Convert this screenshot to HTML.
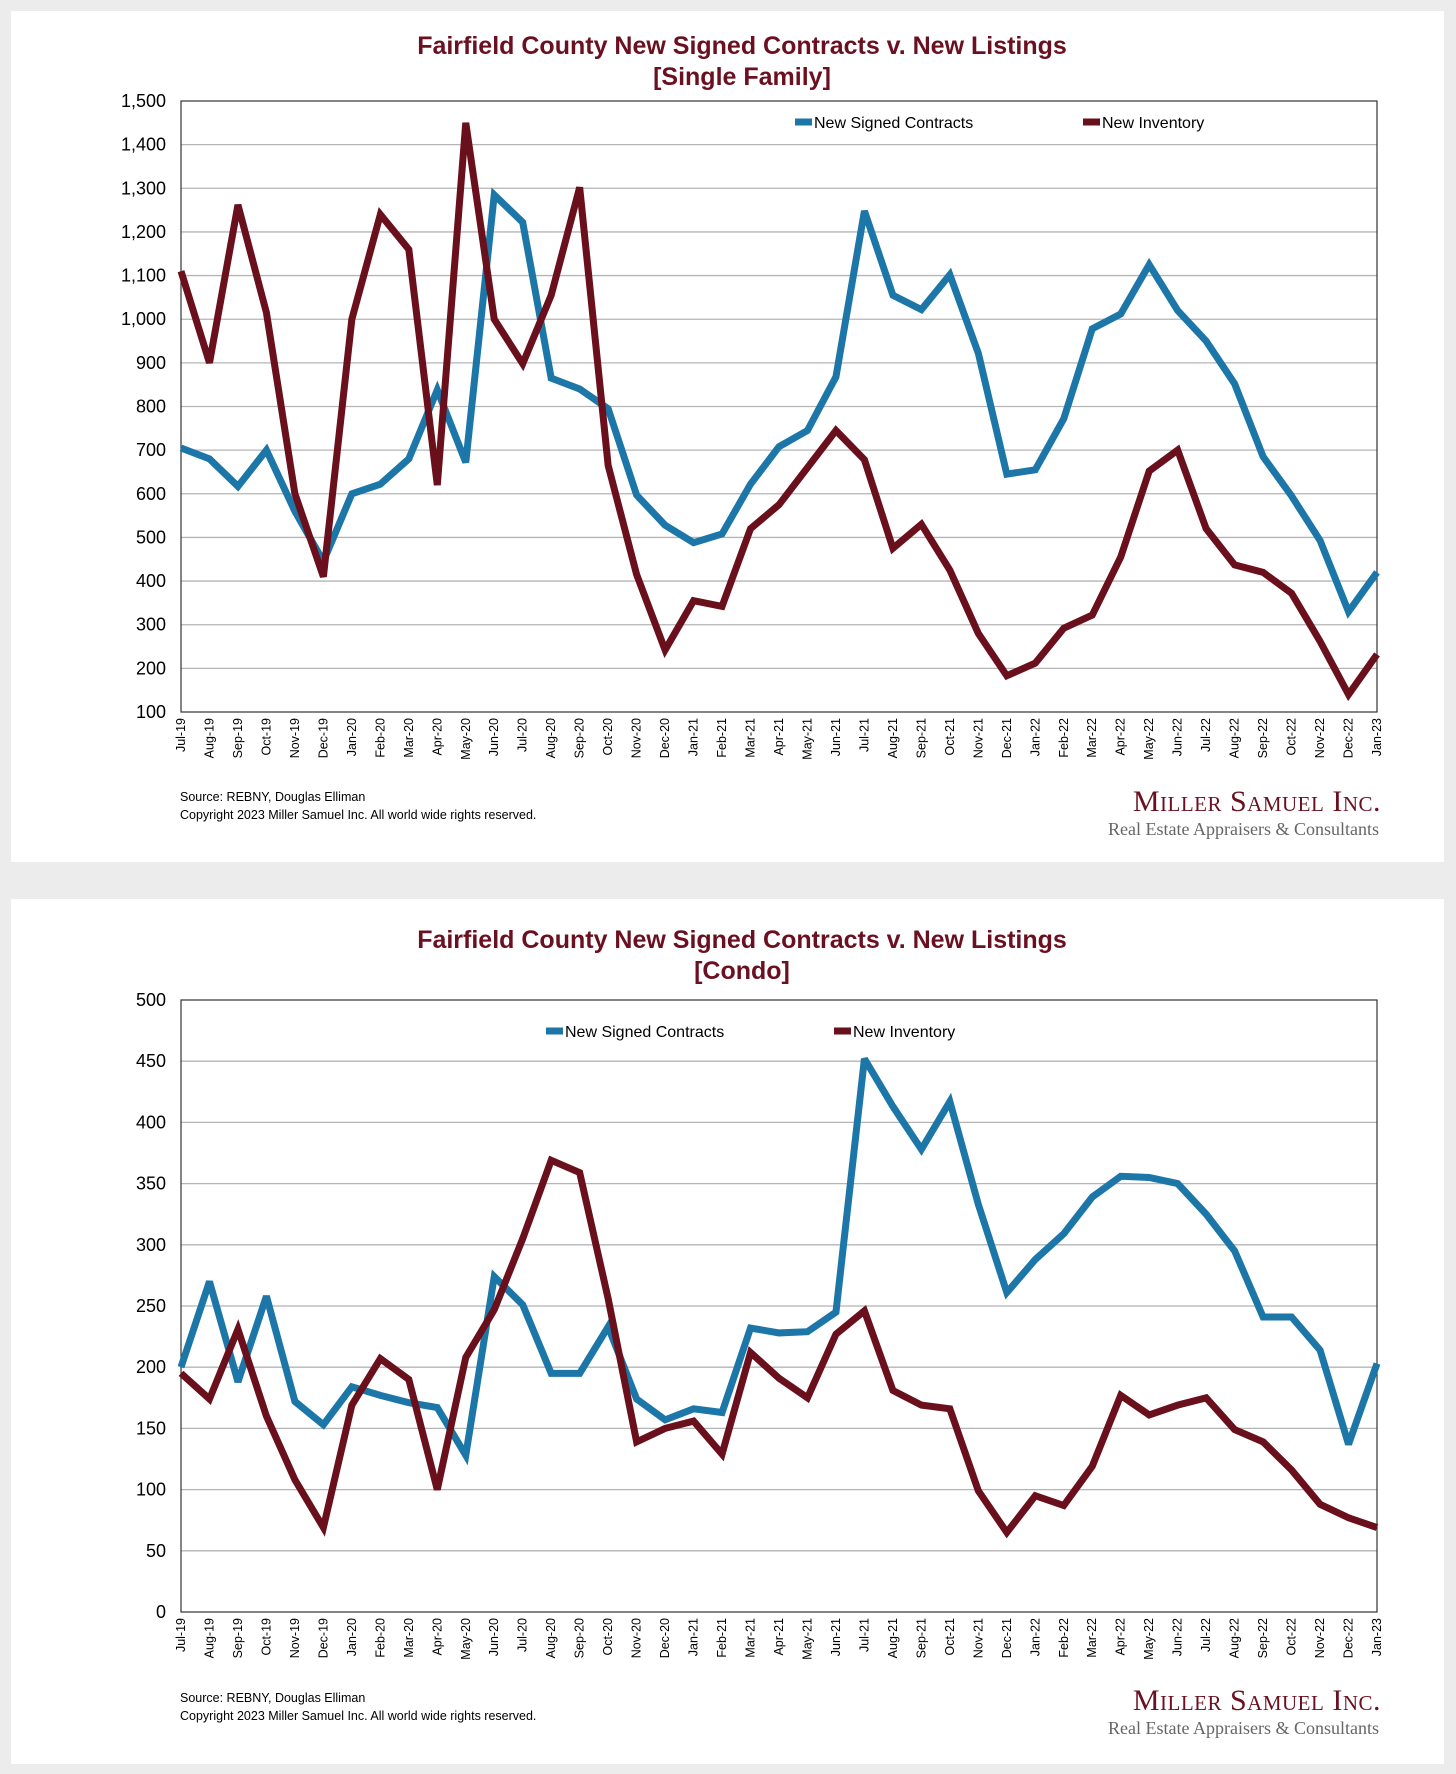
<!DOCTYPE html>
<html><head><meta charset="utf-8"><style>
body{margin:0;background:#ececec;width:1456px;height:1774px;overflow:hidden;font-family:"Liberation Sans",Arial,sans-serif}
svg{position:absolute;left:0;top:0}
</style></head><body>
<svg id="s" width="1456" height="1774" xmlns="http://www.w3.org/2000/svg">
<rect x="11" y="11" width="1433" height="851" fill="#fff"/>
<rect x="11" y="899" width="1433" height="865" fill="#fff"/>
</svg>
<script>
const months=["Jul-19","Aug-19","Sep-19","Oct-19","Nov-19","Dec-19","Jan-20","Feb-20","Mar-20","Apr-20","May-20","Jun-20","Jul-20","Aug-20","Sep-20","Oct-20","Nov-20","Dec-20","Jan-21","Feb-21","Mar-21","Apr-21","May-21","Jun-21","Jul-21","Aug-21","Sep-21","Oct-21","Nov-21","Dec-21","Jan-22","Feb-22","Mar-22","Apr-22","May-22","Jun-22","Jul-22","Aug-22","Sep-22","Oct-22","Nov-22","Dec-22","Jan-23"];
const sfContracts=[705,680,617,700,560,445,600,622,680,838,672,1285,1222,865,840,795,597,528,488,508,622,708,745,868,1248,1055,1022,1102,922,645,655,772,978,1012,1125,1020,950,852,685,595,493,330,420];
const sfInventory=[1110,900,1262,1015,600,410,1000,1240,1160,620,1450,1000,898,1055,1302,665,415,242,355,342,520,575,660,745,678,475,530,425,280,183,212,292,322,455,652,700,520,437,420,372,262,140,232];
const sfTicks=[100,200,300,400,500,600,700,800,900,1000,1100,1200,1300,1400,1500];
const cdContracts=[200,270,188,258,172,153,184,177,171,167,128,274,251,195,195,233,174,157,166,163,232,228,229,245,452,413,378,417,333,261,288,309,339,356,355,350,325,295,241,241,214,137,203];
const cdInventory=[195,174,231,160,108,69,169,207,190,100,208,247,305,369,359,256,139,150,156,129,212,191,175,227,246,181,169,166,99,65,95,87,119,177,161,169,175,149,139,116,88,77,69];
const cdTicks=[0,50,100,150,200,250,300,350,400,450,500];

const NS="http://www.w3.org/2000/svg";
const svg=document.getElementById('s');
function mk(tag,attrs,txt){const e=document.createElementNS(NS,tag);for(const k in attrs)e.setAttribute(k,attrs[k]);if(txt!==undefined)e.textContent=txt;svg.appendChild(e);return e;}
const BLUE="#1c77a8",MAROON="#6a0f1c",TITLE="#6b1020";

function chart(o){
  const L=181,R=1377,T=o.top,B=o.bottom;
  const ymin=o.ticks[0],ymax=o.ticks[o.ticks.length-1];
  const x=i=>L+(R-L)*i/(months.length-1);
  const y=v=>B-(v-ymin)/(ymax-ymin)*(B-T);
  let t=mk('text',{x:742,y:o.titleY,'text-anchor':'middle','font-size':25,'font-weight':'bold',fill:TITLE},o.title1);
  
  
  t=mk('text',{x:742,y:o.titleY+31,'text-anchor':'middle','font-size':25,'font-weight':'bold',fill:TITLE},o.title2);
  
  
  o.ticks.forEach(v=>{
    if(v!==ymin&&v!==ymax){const g=mk('line',{x1:L,x2:R,y1:y(v),y2:y(v),stroke:'#b5b5b5','stroke-width':1.3});
      
      }
    const lb=mk('text',{x:166,y:y(v)+6,'text-anchor':'end','font-size':18,fill:'#000'},o.fmt(v));
    
    
  });
  const fr=mk('rect',{x:L,y:T,width:R-L,height:B-T,fill:'none',stroke:'#333','stroke-width':1.2});
  
  
  months.forEach((m,i)=>{
    const lb=mk('text',{transform:`translate(${x(i)+4},${B+6}) rotate(-90)`,'text-anchor':'end','font-size':12.5,fill:'#000'},m);
    
    
  });
  [[o.s1,BLUE,'series-new-signed-contracts'],[o.s2,MAROON,'series-new-inventory']].forEach(([d,c,n])=>{
    const p=mk('polyline',{points:d.map((v,i)=>x(i)+','+y(v)).join(' '),fill:'none',stroke:c,'stroke-width':7,'stroke-linejoin':'miter','stroke-miterlimit':3});
    
    
  });
  const ly=o.legY;
  let e=mk('line',{x1:o.lx1,x2:o.lx1+17,y1:ly,y2:ly,stroke:BLUE,'stroke-width':7});
  
  
  e=mk('text',{x:o.lx1+19,y:ly+6,'font-size':16},'New Signed Contracts');
  
  
  e=mk('line',{x1:o.lx2,x2:o.lx2+17,y1:ly,y2:ly,stroke:MAROON,'stroke-width':7});
  
  
  e=mk('text',{x:o.lx2+19,y:ly+6,'font-size':16},'New Inventory');
  
  
  e=mk('text',{x:180,y:o.srcY,'font-size':12.5},'Source: REBNY, Douglas Elliman');
  
  
  e=mk('text',{x:180,y:o.srcY+18,'font-size':12.5},'Copyright 2023 Miller Samuel Inc.  All world wide rights reserved.');
  
  
  e=mk('text',{x:1381,y:o.logoY,'text-anchor':'end','font-family':'Liberation Serif, serif','font-size':30,fill:TITLE,'font-variant':'small-caps','letter-spacing':0.5},'Miller Samuel Inc.');
  
  
  e=mk('text',{x:1379,y:o.logoY+24,'text-anchor':'end','font-family':'Liberation Serif, serif','font-size':18,fill:'#666'},'Real Estate Appraisers & Consultants');
  
  
}
chart({top:101,bottom:712,ticks:sfTicks,s1:sfContracts,s2:sfInventory,fmt:v=>v.toLocaleString('en-US'),
  title1:'Fairfield County New Signed Contracts v. New Listings',title2:'[Single Family]',titleY:54,legY:122,lx1:795,lx2:1083,srcY:801,logoY:811});
chart({top:1000,bottom:1612,ticks:cdTicks,s1:cdContracts,s2:cdInventory,fmt:v=>String(v),
  title1:'Fairfield County New Signed Contracts v. New Listings',title2:'[Condo]',titleY:948,legY:1031,lx1:546,lx2:834,srcY:1702,logoY:1710});
</script>
</body></html>
